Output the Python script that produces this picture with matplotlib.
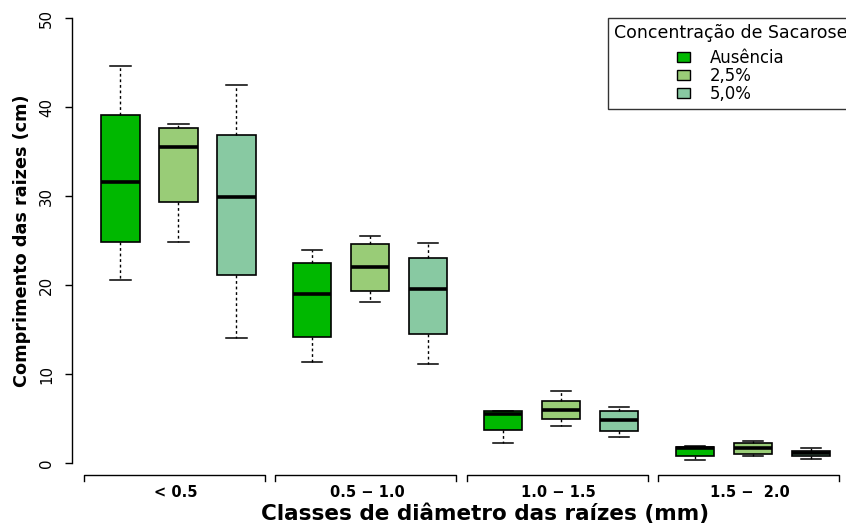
import matplotlib
matplotlib.use("Agg")
import matplotlib.pyplot as plt
from matplotlib.patches import Patch

# ---------------- data ----------------
classes = ["< 0.5", "0.5 \u2212 1.0", "1.0 \u2212 1.5", "1.5 \u2212  2.0"]
concentrations = ["Ausência", "2,5%", "5,0%"]
colors = ["#00B800", "#99CC77", "#88C9A2"]

aus_whislo = [20.6, 11.4, 2.3, 0.3]
aus_q1 = [24.9, 14.2, 3.7, 0.82]
aus_med = [31.6, 19.0, 5.5, 1.65]
aus_q3 = [39.1, 22.5, 5.9, 1.75]
aus_whishi = [44.6, 24.0, 5.9, 1.9]

s25_whislo = [24.9, 18.1, 4.2, 0.75]
s25_q1 = [29.3, 19.3, 5.0, 1.05]
s25_med = [35.5, 22.0, 6.0, 1.65]
s25_q3 = [37.7, 24.6, 7.0, 2.3]
s25_whishi = [38.1, 25.5, 8.1, 2.5]

s50_whislo = [14.1, 11.1, 2.9, 0.45]
s50_q1 = [21.1, 14.5, 3.6, 0.79]
s50_med = [29.9, 19.6, 4.8, 1.12]
s50_q3 = [36.9, 23.0, 5.9, 1.4]
s50_whishi = [42.5, 24.7, 6.3, 1.7]

yticks = [0, 10, 20, 30, 40, 50]

series = [
    (aus_whislo, aus_q1, aus_med, aus_q3, aus_whishi),
    (s25_whislo, s25_q1, s25_med, s25_q3, s25_whishi),
    (s50_whislo, s50_q1, s50_med, s50_q3, s50_whishi),
]

# ---------------- layout ----------------
W, H = 846, 527
fig = plt.figure(figsize=(W / 100, H / 100), dpi=100)
fig.patch.set_facecolor("white")
ax = fig.add_axes([72 / W, 46.2 / H, 774 / W, 480.3 / H])

group_gap = 3.3
stats, positions, fills = [], [], []
for g in range(len(classes)):
    for j, (lo, q1, med, q3, hi) in enumerate(series):
        stats.append(dict(whislo=lo[g], q1=q1[g], med=med[g], q3=q3[g],
                          whishi=hi[g], fliers=[], label=""))
        positions.append(g * group_gap + j)
        fills.append(colors[j])

bp = ax.bxp(stats, positions=positions, widths=0.66, patch_artist=True,
            showfliers=False, capwidths=0.35,
            boxprops=dict(edgecolor="black", linewidth=1.2),
            whiskerprops=dict(color="black", linewidth=1, linestyle=(0, (2, 2))),
            capprops=dict(color="black", linewidth=1.1),
            medianprops=dict(color="black", linewidth=2.6))
for box, c in zip(bp["boxes"], fills):
    box.set_facecolor(c)

ax.set_xlim(-0.836, 12.509)
ax.set_ylim(-2, 52)

for s in ["top", "right", "bottom"]:
    ax.spines[s].set_visible(False)
ax.spines["left"].set_bounds(0, 50)
ax.spines["left"].set_linewidth(1)

ax.set_yticks(yticks)
ax.set_yticklabels([str(v) for v in yticks], rotation=90, va="center")
ax.tick_params(axis="y", length=5, width=1, labelsize=10.8, pad=8)

# group brackets
for g in range(len(classes)):
    x0 = g * group_gap - 0.63
    x1 = g * group_gap + 2.49
    ax.plot([x0, x0, x1, x1], [-2.05, -1.35, -1.35, -2.05], color="black",
            lw=1, clip_on=False)

ax.set_xticks([g * group_gap + 0.95 for g in range(len(classes))])
ax.set_xticklabels(classes, fontweight="bold", fontsize=10.5)
ax.tick_params(axis="x", length=0, pad=3)

ax.set_xlabel("Classes de diâmetro das raízes (mm)", fontweight="bold", fontsize=15.5)
ax.xaxis.label.set_va("center")
ax.xaxis.set_label_coords(0.534, -(513.5 - 480.8) / 480.3)

ax.set_ylabel("Comprimento das raizes (cm)", fontweight="bold", fontsize=12.7)
ax.yaxis.label.set_va("center")
ax.yaxis.set_label_coords((22 - 72) / 774, (480.8 - 241) / 480.3)

handles = [Patch(facecolor=c, edgecolor="black", linewidth=1, label=l)
           for c, l in zip(colors, concentrations)]
leg = ax.legend(handles=handles, title="Concentração de Sacarose",
                loc="upper left", bbox_to_anchor=(608 / W, 1 - 18 / H),
                bbox_transform=fig.transFigure, borderaxespad=0,
                fontsize=11.9, title_fontsize=12.5, alignment="center",
                handlelength=0.8, handleheight=0.55, handletextpad=1.2,
                labelspacing=0.0, borderpad=0.35, frameon=True, fancybox=False)
leg._legend_box.sep = 5
leg.get_frame().set_edgecolor("black")
leg.get_frame().set_linewidth(1)

fig.savefig("out.png", dpi=100, facecolor="white")
